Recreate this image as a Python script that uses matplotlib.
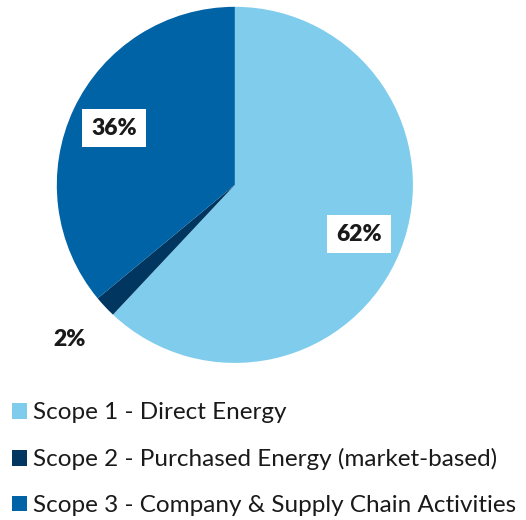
"""Scope 1/2/3 emissions share pie chart."""

import matplotlib
matplotlib.use("Agg")
import matplotlib.pyplot as plt
from matplotlib.patches import Patch
import numpy as np

# ---------------------------------------------------------------------------
# Data
# ---------------------------------------------------------------------------

categories = [
    "Scope 1 - Direct Energy",
    "Scope 2 - Purchased Energy (market-based)",
    "Scope 3 - Company & Supply Chain Activities",
]
shares = [62, 2, 36]
colors = ["#7FCCEC", "#003660", "#0063A6"]

plt.rcParams["font.family"] = ["Lato", "DejaVu Sans"]

fig = plt.figure(figsize=(5.26, 5.2), dpi=100)
ax = fig.add_axes([0.108, 0.302, 0.677, 0.685])

wedges, _ = ax.pie(shares, colors=colors, startangle=90, counterclock=False,
                   wedgeprops=dict(linewidth=0))
ax.set_xlim(-1, 1)
ax.set_ylim(-1, 1)
ax.set_aspect("equal")

# percentage labels: boxed inside the big slices, plain outside the small one
total = sum(shares)
for w, v in zip(wedges, shares):
    mid = np.deg2rad((w.theta1 + w.theta2) / 2)
    if v / total > 0.05:
        r = 0.75
        box = dict(facecolor="white", edgecolor="none", pad=6.5)
    else:
        r = 1.27
        box = None
    ax.text(r * np.cos(mid), r * np.sin(mid), f"{v}%", ha="center", va="center",
            fontsize=16.5, fontweight="heavy", color="#1a1a1a", bbox=box,
            clip_on=False)

handles = [Patch(facecolor=c, edgecolor="none") for c in colors]
fig.legend(handles, categories, loc="upper left", bbox_to_anchor=(0.005, 0.245),
           frameon=False, fontsize=17.5, labelspacing=1.02, handlelength=0.62,
           handleheight=0.62, handletextpad=0.25, borderaxespad=0,
           labelcolor="#1a1a1a")

fig.savefig("out.png", dpi=100)
